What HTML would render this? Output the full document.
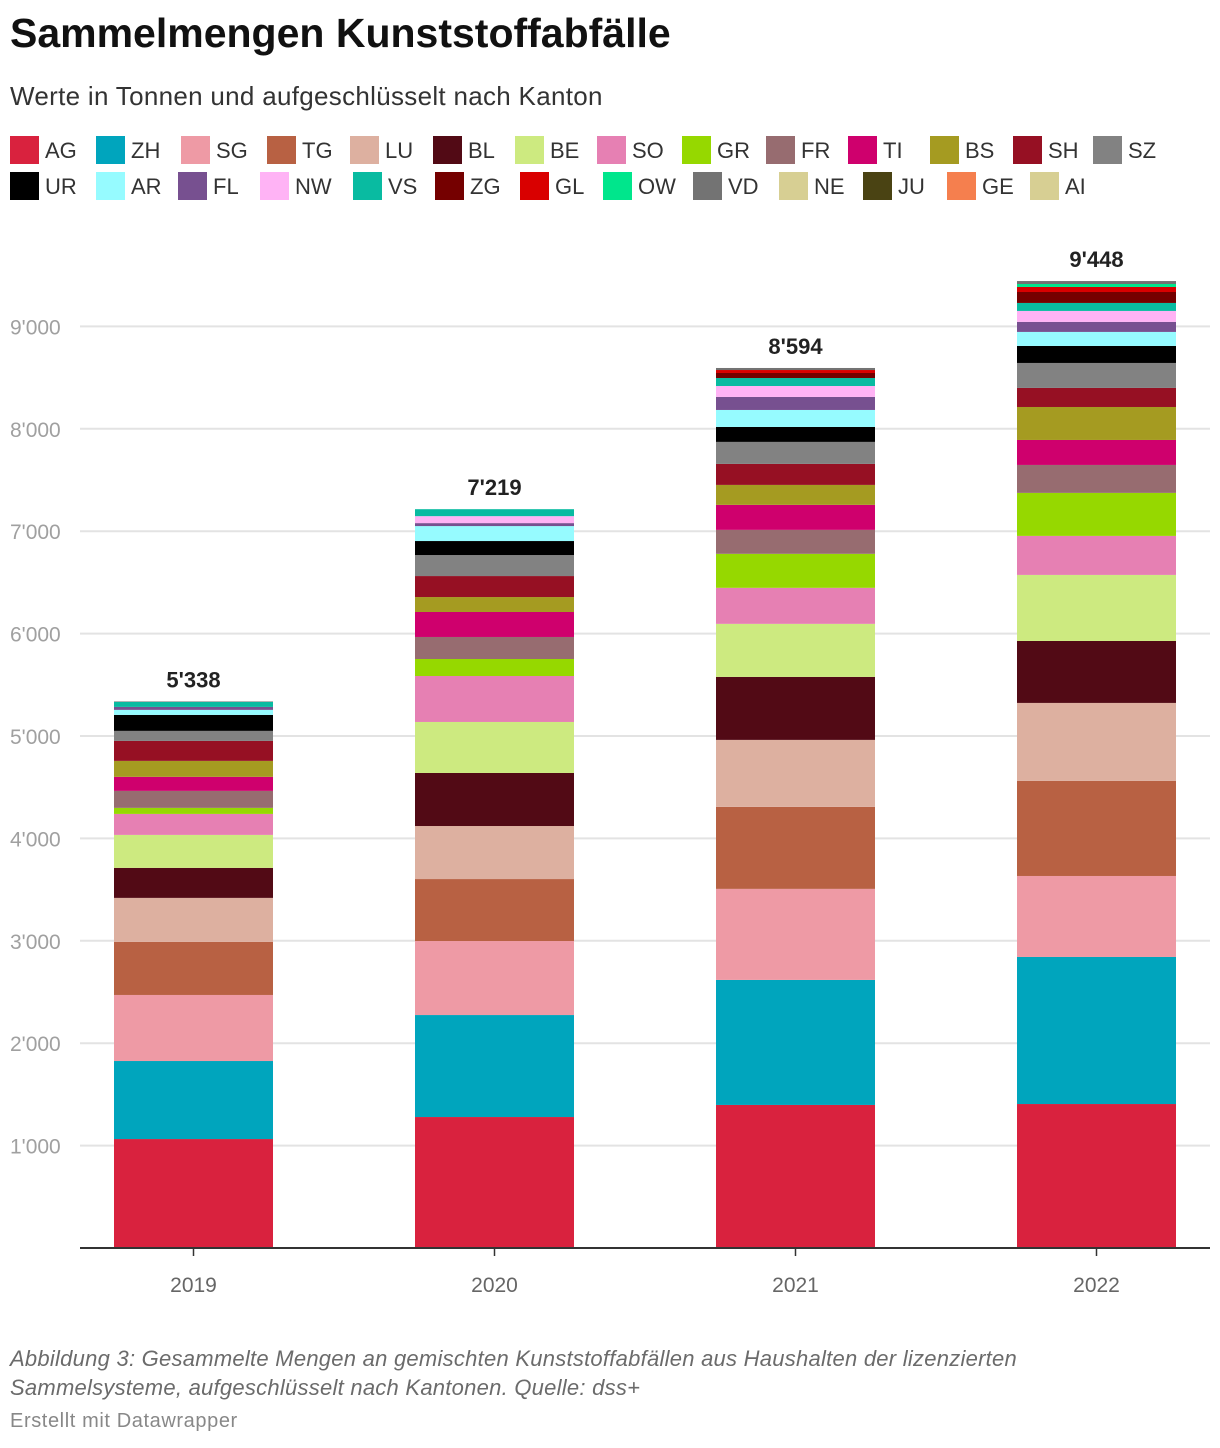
<!DOCTYPE html>
<html><head><meta charset="utf-8"><style>
body{margin:0;background:#fff;font-family:"Liberation Sans",sans-serif;width:1220px;height:1448px;position:relative;overflow:hidden}
.t{position:absolute;left:10px;white-space:nowrap}
</style></head><body>
<div class="t" style="top:10px;font-size:41px;font-weight:bold;color:#111;letter-spacing:0px">Sammelmengen Kunststoffabfälle</div>
<div class="t" style="top:81px;font-size:26px;color:#333;letter-spacing:0.3px">Werte in Tonnen und aufgeschlüsselt nach Kanton</div>
<svg id="chart" width="1220" height="1448" style="position:absolute;left:0;top:0"></svg>
<div class="t" style="top:1344px;font-size:22px;font-style:italic;color:#6b6b6b;line-height:29px;letter-spacing:0.25px">Abbildung 3: Gesammelte Mengen an gemischten Kunststoffabfällen aus Haushalten der lizenzierten<br>Sammelsysteme, aufgeschlüsselt nach Kantonen. Quelle: dss+</div>
<div class="t" style="top:1410px;font-size:20px;color:#888;letter-spacing:0.6px">Erstellt mit Datawrapper</div>
<script>
const years = ["2019","2020","2021","2022"];
const cantons = ["AG","ZH","SG","TG","LU","BL","BE","SO","GR","FR","TI","BS","SH","SZ","UR","AR","FL","NW","VS","ZG","GL","OW","VD","NE","JU","GE","AI"];
const colors = ["#d9223e","#00a5bd","#ee9aa5","#b86143","#ddb0a0","#520a15","#cdea80","#e680b3","#96d800","#976c70","#cf006d","#a59b21","#961023","#828282","#000000","#96fbff","#775090","#ffb3f5","#09bba1","#750000","#d90000","#00e68c","#737373","#d7cf93","#4a4313","#f57f4e","#d7cf93"];
const v2019 = [1064,762,645,518,430,293,322,205,59,166,137,156,195,98,156,49,29,0,49,0,0,0,5,0,0,0,0];
const v2020 = [1279,996,723,605,518,518,498,449,166,215,244,146,205,205,137,146,29,68,68,0,0,0,0,0,0,0,0];
const v2021 = [1397,1221,889,801,654,615,518,352,332,234,244,195,205,215,146,166,127,107,78,49,29,0,20,0,0,0,0];
const v2022 = [1406,1436,791,928,762,605,645,381,420,273,244,322,186,244,166,137,98,107,78,107,49,29,29,0,0,0,0];
const series = [v2019,v2020,v2021,v2022];
const totals = ["5'338","7'219","8'594","9'448"];
const yTicks = [1000,2000,3000,4000,5000,6000,7000,8000,9000];
const yTickLabels = ["1'000","2'000","3'000","4'000","5'000","6'000","7'000","8'000","9'000"];

const NS="http://www.w3.org/2000/svg";
const svg=document.getElementById('chart');
function el(t,a,txt){const e=document.createElementNS(NS,t);for(const k in a)e.setAttribute(k,a[k]);if(txt!=null)e.textContent=txt;svg.appendChild(e);return e;}
const y0=1248, k=0.1024, xL=80, band=301, barW=159;
const Y=v=>y0-v*k;
const X=i=>xL+34+i*band;
const lx1=[10,96,181,267,350,433,515,597,682,766,848,930,1013,1093];
const lx2=[10,96,178,260,353,435,520,603,693,779,863,947,1030];
cantons.forEach((c,i)=>{
  const row=i<14?0:1; const x=row?lx2[i-14]:lx1[i]; const y=row?172:136;
  const g=document.createElementNS(NS,'g');
  
  
  svg.appendChild(g);
  const r=document.createElementNS(NS,'rect');r.setAttribute('x',x);r.setAttribute('y',y);r.setAttribute('width',29);r.setAttribute('height',28);r.setAttribute('fill',colors[i]);g.appendChild(r);
  const t=document.createElementNS(NS,'text');t.setAttribute('x',x+35);t.setAttribute('y',y+22);t.setAttribute('font-size','22');t.setAttribute('fill','#333');t.textContent=c;g.appendChild(t);
});
yTicks.forEach((v,i)=>{
  const l=el('line',{x1:80,x2:1210,y1:Y(v),y2:Y(v),stroke:'#e3e3e3','stroke-width':2});
  
  
  const t=el('text',{x:10,y:Y(v)+8,'font-size':21,fill:'#a0a0a0'},yTickLabels[i]);
  
  
});
series.forEach((vals,i)=>{
  let acc=0;
  vals.forEach((v,j)=>{
    if(v<=0)return;
    const r=el('rect',{x:X(i),y:Y(acc+v),width:barW,height:v*k,fill:colors[j]});
    
    
    acc+=v;
  });
  const lab=el('text',{x:X(i)+barW/2,y:Y(acc)-14,'font-size':22,'font-weight':'bold','text-anchor':'middle',fill:'#222'},totals[i]);
  
  
  const tk=el('line',{x1:X(i)+barW/2,x2:X(i)+barW/2,y1:y0,y2:y0+8,stroke:'#333','stroke-width':1.5});
  
  
  const xl=el('text',{x:X(i)+barW/2,y:1292,'font-size':21,'text-anchor':'middle',fill:'#666'},years[i]);
  
  
});
const ax=el('line',{x1:80,x2:1210,y1:y0,y2:y0,stroke:'#333','stroke-width':2});


</script>
</body></html>
